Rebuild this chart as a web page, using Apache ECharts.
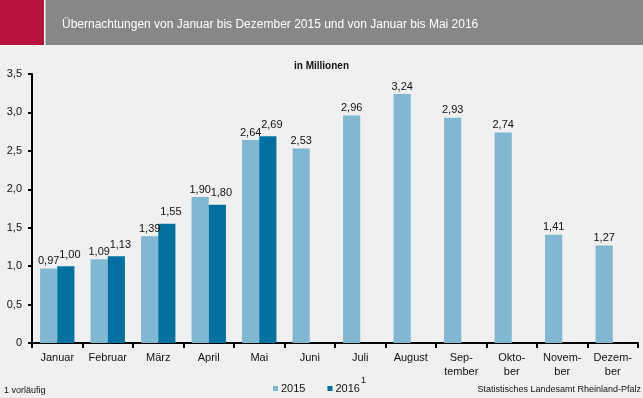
<!DOCTYPE html>
<html><head><meta charset="utf-8">
<script src="https://cdn.jsdelivr.net/npm/echarts@6/dist/echarts.min.js"></script>
<style>html,body{margin:0;padding:0;background:#eff0ef;}#c{width:643px;height:398px;}</style>
</head><body><div id="c"></div>
<script>
const categories = ['Januar','Februar','März','April','Mai','Juni','Juli','August','Sep-\ntember','Okto-\nber','Novem-\nber','Dezem-\nber'];
const values2015 = [0.97,1.09,1.39,1.90,2.64,2.53,2.96,3.24,2.93,2.74,1.41,1.27];
const values2016 = [1.00,1.13,1.55,1.80,2.69,'-','-','-','-','-','-','-'];
const yTicks = [0,0.5,1,1.5,2,2.5,3,3.5];
const fmt = v => v.toFixed(2).replace('.', ',');
const font = 'Liberation Sans, Arial, sans-serif';
const chart = echarts.init(document.getElementById('c'));
chart.setOption({
  backgroundColor: '#eff0ef',
  animation: false,
  title: [{
    text: 'Übernachtungen von Januar bis Dezember 2015 und von Januar bis Mai 2016',
    left: 57, top: 14,
    textStyle: {color: '#fff', fontSize: 12, fontWeight: 'normal', fontFamily: font}
  },{
    text: 'in Millionen', left: 'center', top: 56,
    textStyle: {color: '#111', fontSize: 10, fontWeight: 'bold', fontFamily: font}
  }],
  graphic: [
    {type: 'rect', z: -1, shape: {x: 0, y: 0, width: 643, height: 45}, style: {fill: '#878787'}},
    {type: 'rect', z: -1, shape: {x: 0, y: 0, width: 44, height: 45}, style: {fill: '#b5123c'}},
    {type: 'rect', z: -1, shape: {x: 44, y: 0, width: 1.5, height: 45}, style: {fill: '#ffffff'}},
    {type: 'text', left: 4, top: 386, style: {text: '1 vorläufig', fill: '#111', font: '9px ' + font}},
    {type: 'text', right: 2, top: 385, style: {text: 'Statistisches Landesamt Rheinland-Pfalz', fill: '#111', font: '9px ' + font}},
    {type: 'text', left: 361, top: 376, style: {text: '1', fill: '#111', font: '9px ' + font}}
  ],
  legend: {
    top: 383, left: 273, padding: 0, itemWidth: 5, itemHeight: 5, itemGap: 22, icon: 'rect',
    textStyle: {color: '#111', fontSize: 11, fontFamily: font, padding: [0,0,0,-2]},
    data: ['2015','2016']
  },
  grid: {left: 32, right: 5, top: 74, bottom: 55, containLabel: false},
  xAxis: {
    type: 'category', data: categories,
    axisLine: {lineStyle: {color: '#000', width: 2}},
    axisTick: {show: true, length: 5, lineStyle: {color: '#000', width: 2}},
    axisLabel: {color: '#111', fontSize: 11, fontFamily: font, margin: 8, interval: 0, lineHeight: 14}
  },
  yAxis: {
    type: 'value', min: 0, max: 3.5, interval: 0.5,
    splitLine: {show: false},
    axisLine: {show: true, lineStyle: {color: '#000', width: 2}},
    axisTick: {show: true, length: 4, lineStyle: {color: '#000', width: 2}},
    axisLabel: {color: '#111', fontSize: 11, fontFamily: font, margin: 10,
      formatter: v => v === 0 ? '0' : v.toFixed(1).replace('.', ',')}
  },
  series: [{
    name: '2015', type: 'bar', data: values2015, barGap: '0%', barCategoryGap: '32%',
    itemStyle: {color: '#80b7d3'},
    label: {show: true, position: 'top', distance: 2, color: '#111', fontSize: 11, fontFamily: font,
      formatter: p => fmt(p.value)}
  },{
    name: '2016', type: 'bar', data: values2016,
    itemStyle: {color: '#0070a1'},
    label: {show: true, position: 'top', distance: 2, offset: [4, -4], color: '#111', fontSize: 11, fontFamily: font,
      formatter: p => fmt(p.value)}
  }]
});
</script></body></html>
